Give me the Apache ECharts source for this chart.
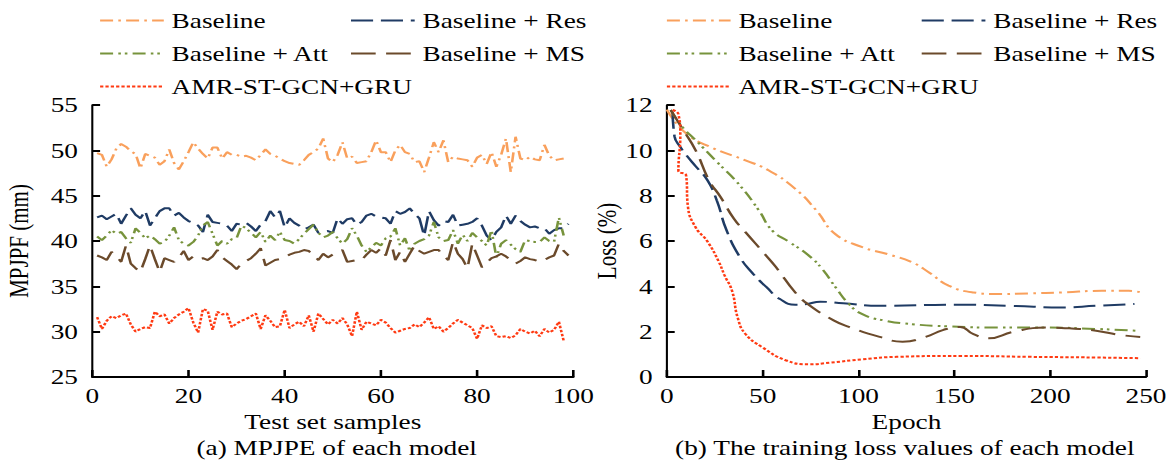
<!DOCTYPE html>
<html>
<head>
<meta charset="utf-8">
<script src="https://cdn.jsdelivr.net/npm/echarts@6/dist/echarts.min.js"></script>
<style>
  html, body { margin: 0; padding: 0; background: #fff; overflow: hidden; }
  /* the source figure is stretched sideways, so draw narrow and widen */
  #main { width: 904px; height: 471px; transform: scaleX(1.3); transform-origin: 0 0; }
</style>
</head>
<body>
<div id="main"></div>
<script>
// (a) MPJPE per test sample, samples 1..n
var baselineMpjpe = [49.7, 49.5, 48.2, 49.0, 50.2, 50.7, 50.4, 49.9, 49.6, 48.0, 49.6, 49.4, 49.2, 48.4, 48.8, 50.1, 48.6, 47.9, 48.8, 49.8,
  50.9, 50.2, 49.6, 49.1, 50.3, 50.3, 49.1, 49.8, 49.5, 49.5, 49.3, 49.4, 49.2, 48.9, 49.5, 50.1, 49.6, 49.4, 49.1, 48.8,
  48.6, 48.5, 48.4, 48.9, 49.5, 49.8, 50.2, 51.3, 49.1, 48.7, 49.5, 50.9, 49.1, 49.3, 48.6, 48.7, 48.8, 49.8, 51.1, 49.8,
  49.8, 48.7, 50.0, 50.6, 49.8, 49.6, 48.7, 48.8, 47.6, 49.2, 50.9, 49.8, 51.1, 48.7, 49.3, 49.1, 49.0, 48.9, 48.2, 49.2,
  49.5, 48.5, 49.8, 48.2, 49.5, 51.3, 47.6, 51.5, 49.1, 48.9, 49.3, 49.0, 48.9, 50.6, 49.4, 48.9, 49.0, 49.1];
var resMpjpe = [42.6, 42.8, 42.4, 42.7, 43.0, 41.9, 42.8, 43.6, 42.9, 42.5, 43.3, 41.7, 42.5, 43.3, 43.6, 43.6, 42.8, 43.1, 42.6, 42.2,
  42.0, 41.7, 41.0, 42.9, 42.1, 42.0, 41.9, 41.7, 41.1, 41.9, 41.8, 42.0, 41.6, 41.1, 41.8, 42.2, 43.3, 42.6, 43.3, 41.5,
  42.5, 42.0, 41.7, 41.3, 41.5, 41.8, 40.9, 41.0, 41.1, 40.9, 42.5, 41.9, 42.4, 42.5, 41.8, 42.1, 42.8, 43.0, 42.7, 42.6,
  42.5, 41.9, 43.3, 43.0, 43.2, 43.6, 43.0, 42.5, 40.6, 43.3, 42.3, 41.7, 42.2, 42.1, 42.9, 41.7, 41.8, 41.9, 42.1, 42.5,
  41.7, 40.6, 40.1, 41.0, 41.5, 42.8, 41.9, 42.8, 42.2, 41.8, 41.5, 41.6, 41.4, 41.4, 40.8, 41.2, 41.4, 41.4, 41.9];
var attMpjpe = [40.5, 40.1, 40.6, 41.2, 40.8, 41.0, 40.3, 39.8, 41.4, 40.9, 40.3, 40.6, 40.2, 39.7, 39.9, 40.6, 41.5, 40.1, 39.7, 39.5,
  39.9, 40.6, 41.7, 42.1, 40.8, 39.5, 40.0, 39.7, 40.2, 40.3, 41.7, 41.4, 40.9, 40.4, 41.0, 39.9, 40.6, 40.1, 41.0, 40.1,
  40.0, 39.7, 40.2, 40.8, 41.3, 41.8, 40.9, 40.4, 40.6, 41.0, 40.3, 39.7, 40.2, 41.4, 40.6, 39.5, 38.8, 39.3, 39.8, 39.5,
  40.3, 40.5, 41.4, 39.5, 40.3, 38.9, 39.7, 40.0, 40.2, 40.6, 42.1, 40.4, 40.0, 40.1, 41.2, 39.7, 40.7, 40.0, 40.9, 40.4,
  40.0, 39.5, 41.2, 38.2, 39.7, 40.1, 39.6, 39.1, 38.8, 40.1, 40.0, 39.9, 39.9, 40.4, 40.0, 39.9, 42.6, 40.6];
var msMpjpe = [38.4, 38.2, 37.9, 38.8, 38.3, 37.7, 39.5, 37.5, 37.0, 36.6, 38.0, 39.5, 38.0, 36.6, 38.1, 37.9, 37.7, 38.2, 38.9, 37.9,
  38.3, 38.0, 38.1, 37.9, 38.3, 39.0, 38.2, 37.8, 37.4, 36.9, 37.5, 37.8, 38.1, 38.6, 39.2, 37.3, 37.6, 37.9, 38.0, 38.2,
  38.5, 38.7, 38.8, 39.0, 38.9, 38.4, 37.9, 38.6, 38.2, 38.5, 38.8, 39.0, 37.7, 37.8, 37.9, 37.9, 38.5, 39.0, 38.7, 39.2,
  38.4, 40.1, 37.9, 38.8, 37.7, 38.6, 39.5, 38.9, 38.6, 38.8, 39.0, 39.0, 38.4, 37.9, 39.9, 38.6, 38.0, 37.0, 39.7, 38.4,
  37.1, 37.6, 38.1, 38.3, 38.6, 38.3, 37.9, 37.5, 37.8, 38.2, 38.0, 37.9, 37.7, 37.9, 38.2, 38.4, 39.7, 38.9, 38.4];
var amrMpjpe = [31.6, 30.3, 31.2, 31.7, 31.5, 31.8, 32.0, 30.8, 30.0, 30.3, 30.5, 30.4, 32.2, 31.7, 31.9, 30.9, 31.5, 31.9, 32.2, 32.6,
  31.0, 29.9, 32.5, 32.3, 30.2, 32.2, 31.9, 32.0, 30.5, 30.9, 31.2, 31.4, 31.7, 32.0, 30.3, 31.8, 31.2, 30.5, 30.6, 32.4,
  30.4, 30.8, 31.1, 30.6, 31.8, 30.0, 32.0, 31.4, 30.8, 31.3, 30.9, 31.5, 30.8, 29.5, 32.2, 30.2, 31.1, 30.9, 30.7, 31.3,
  31.0, 30.4, 29.9, 30.1, 30.3, 30.4, 30.8, 30.5, 31.0, 31.6, 30.3, 30.6, 30.0, 30.4, 30.9, 31.3, 31.0, 30.7, 30.4, 29.2,
  30.7, 30.4, 30.6, 29.5, 29.4, 29.5, 29.3, 29.6, 30.3, 30.0, 29.8, 30.1, 29.5, 30.3, 29.9, 30.2, 31.1, 29.0];

// (b) training loss, sampled epochs per curve
var baselineEpoch = [0, 10, 24, 41, 53, 67, 78, 88, 102, 116, 128, 137, 147, 160, 172, 189, 206, 227, 241, 249];
var baselineLoss = [11.8, 10.75, 10.1, 9.56, 9.12, 8.3, 7.35, 6.3, 5.73, 5.4, 5.06, 4.6, 4.03, 3.73, 3.66, 3.69, 3.73, 3.8, 3.8, 3.7];
var resEpoch = [3, 4, 7, 10, 15, 21, 26, 31, 38, 45, 52, 59, 67, 73, 80, 92, 111, 151, 180, 206, 224, 244];
var resLoss = [11.7, 10.6, 10.15, 9.8, 9.3, 8.7, 7.8, 6.5, 5.3, 4.55, 3.96, 3.44, 3.19, 3.22, 3.32, 3.25, 3.14, 3.19, 3.14, 3.07, 3.14, 3.22];
var attEpoch = [2, 8, 15, 26, 38, 48, 55, 64, 74, 81, 88, 95, 102, 113, 128, 146, 172, 198, 224, 245];
var attLoss = [11.78, 11.04, 10.45, 9.5, 8.46, 7.35, 6.46, 5.95, 5.36, 4.77, 3.96, 3.22, 2.77, 2.5, 2.33, 2.24, 2.18, 2.18, 2.12, 2.04];
var msEpoch = [2, 8, 15, 22, 28, 35, 41, 51, 57, 67, 74, 87, 95, 111, 123, 135, 144, 153, 160, 168, 181, 198, 210, 224, 236, 247];
var msLoss = [11.78, 10.97, 10.0, 8.68, 7.94, 6.98, 6.39, 5.43, 4.84, 3.73, 3.19, 2.5, 2.21, 1.77, 1.56, 1.77, 2.07, 2.21, 1.89, 1.71, 2.0, 2.18, 2.15, 2.04, 1.86, 1.77];
var amrEpoch = [3, 6, 7, 6, 10, 11, 15, 21, 27, 30, 34, 37, 41, 50, 62, 74, 85, 102, 120, 154, 189, 224, 247];
var amrLoss = [11.78, 11.6, 10.7, 9.1, 8.9, 7.5, 6.6, 6.0, 5.1, 4.5, 3.8, 2.6, 1.9, 1.3, 0.74, 0.56, 0.63, 0.78, 0.89, 0.93, 0.89, 0.86, 0.83];

var names = ['Baseline', 'Baseline + Res', 'Baseline + Att', 'Baseline + MS', 'AMR-ST-GCN+GRU'];
var colors = ['#F9A05C', '#1F3B64', '#77933C', '#6B4A2B', '#FF3A12'];
var dashes = [[10, 4, 2, 4], [17, 6], [10, 4, 2, 3, 2, 4], [19, 8], [2.5, 1.6]];

var serif = 'Liberation Serif, Times New Roman, serif';
var chart = echarts.init(document.getElementById('main'), null, { renderer: 'svg' });

function pairs(xs, ys) {
  return ys.map(function (v, i) { return [xs ? xs[i] : i + 1, v]; });
}
function mk(i, data, axis, smooth) {
  return {
    name: names[i], type: 'line', xAxisIndex: axis, yAxisIndex: axis,
    data: data, smooth: smooth, showSymbol: false, symbol: 'none',
    lineStyle: { color: colors[i], width: 2, type: dashes[i] },
    itemStyle: { color: colors[i] }
  };
}
function xAx(idx, max, interval, name) {
  return {
    type: 'value', gridIndex: idx, min: 0, max: max, interval: interval,
    name: name, nameLocation: 'middle', nameGap: 29,
    nameTextStyle: { fontFamily: serif, fontSize: 21, color: '#000' },
    axisLine: { lineStyle: { color: '#000', width: 2 } },
    axisTick: { inside: true, length: 7, lineStyle: { color: '#000', width: 2 } },
    axisLabel: { fontFamily: serif, fontSize: 21, color: '#000', margin: 8 },
    splitLine: { show: false }
  };
}
function yAx(idx, min, max, interval, name, gap) {
  return {
    type: 'value', gridIndex: idx, min: min, max: max, interval: interval,
    name: name, nameLocation: 'middle', nameGap: gap,
    nameTextStyle: { fontFamily: serif, fontSize: 21, color: '#000' },
    axisLine: { show: true, lineStyle: { color: '#000', width: 1.6 } },
    axisTick: { show: true, inside: true, length: 6, lineStyle: { color: '#000', width: 2 } },
    axisLabel: { fontFamily: serif, fontSize: 21, color: '#000', margin: 11 },
    splitLine: { show: false }
  };
}
function leg(left, items) {
  return {
    left: left, top: 5, orient: 'vertical', itemGap: 12,
    itemWidth: 49, itemHeight: 12, data: items,
    itemStyle: { opacity: 0, borderWidth: 0 },
    textStyle: { fontFamily: serif, fontSize: 21, color: '#000', padding: [0, 0, 0, 1] }
  };
}

chart.setOption({
  backgroundColor: '#fff',
  animation: false,
  grid: [
    { left: 71, top: 105, width: 370, height: 272 },
    { left: 513, top: 105, width: 368.5, height: 272 }
  ],
  legend: [
    leg(71, [names[0], names[2], names[4]]),
    leg(264, [names[1], names[3]]),
    leg(507, [names[0], names[2], names[4]]),
    leg(703, [names[1], names[3]])
  ],
  graphic: [
    { type: 'text', x: 259, y: 448, style: { text: '(a) MPJPE of each model', align: 'center', verticalAlign: 'middle', font: '21px ' + serif, fill: '#000' } },
    { type: 'text', x: 696, y: 448, style: { text: '(b) The training loss values of each model', align: 'center', verticalAlign: 'middle', font: '21px ' + serif, fill: '#000' } }
  ],
  xAxis: [xAx(0, 100, 20, 'Test set samples'), xAx(1, 250, 50, 'Epoch')],
  yAxis: [yAx(0, 25, 55, 5, 'MPJPF (mm)', 46), yAx(1, 0, 12, 2, 'Loss (%)', 33)],
  series: [
    mk(0, pairs(null, baselineMpjpe), 0, false),
    mk(1, pairs(null, resMpjpe), 0, false),
    mk(2, pairs(null, attMpjpe), 0, false),
    mk(3, pairs(null, msMpjpe), 0, false),
    mk(4, pairs(null, amrMpjpe), 0, false),
    mk(0, pairs(baselineEpoch, baselineLoss), 1, true),
    mk(1, pairs(resEpoch, resLoss), 1, true),
    mk(2, pairs(attEpoch, attLoss), 1, true),
    mk(3, pairs(msEpoch, msLoss), 1, true),
    mk(4, pairs(amrEpoch, amrLoss), 1, true)
  ]
});
</script>
</body>
</html>
